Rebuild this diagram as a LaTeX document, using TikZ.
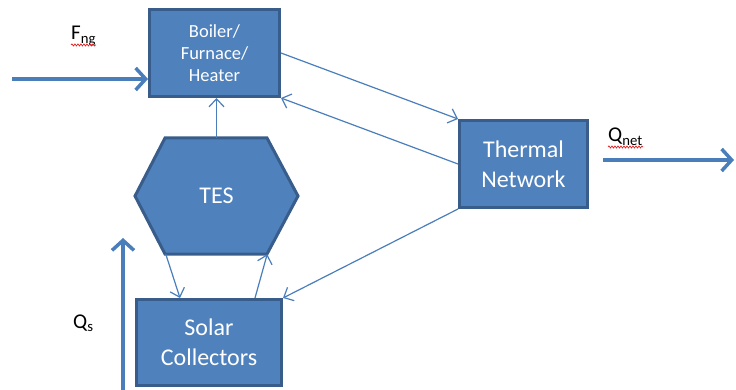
\documentclass[tikz,border=0pt]{standalone}
\usepackage{fontspec}
\setmainfont{Carlito}
\usepackage{tikz}
\usetikzlibrary{arrows.meta,calc,positioning,decorations.pathmorphing}
\definecolor{unitfill}{HTML}{4F81BD}
\definecolor{unitedge}{HTML}{385D8A}
\definecolor{linkblue}{HTML}{4A7EBB}
\definecolor{spellred}{HTML}{E02020}

\begin{document}
\begin{tikzpicture}[x=1pt,y=-1pt,
    unit/.style={draw=unitedge, fill=unitfill, line width=3pt},
    box/.style={unit, text=white, align=center, inner sep=0pt},
    big/.style={font=\fontsize{24}{30}\selectfont},
    link/.style={draw=linkblue, line width=1.2pt, -{Straight Barb[length=8pt,width=15pt]}},
    feed/.style={draw=linkblue, line width=3.5pt, -{Straight Barb[length=10pt,width=22pt]}},
    tag/.style={inner sep=0pt, font=\fontsize{21}{24}\selectfont},
    spell/.style={draw=spellred, line width=0.7pt, decorate, decoration={snake, amplitude=1pt, segment length=3pt}}]
  \useasboundingbox (0,0) rectangle (736,390);
  % units
  \node[box, minimum width=130pt, minimum height=87pt, font=\fontsize{18.5}{21.7}\selectfont] (boiler) at (214.5,53) {Boiler/\\Furnace/\\Heater};
  \node[box, big, minimum width=128pt, minimum height=87pt] (network) at (523.5,164) {Thermal\\Network};
  \node[box, big, minimum width=145pt, minimum height=86pt] (solar) at (209,342.5) {Solar\\Collectors};
  \draw[unit] (135,196) -- (165,138) -- (267,138) -- (298,196) -- (267,254) -- (165,254) -- cycle;
  \node[big, text=white, minimum width=163pt, minimum height=116pt] (tes) at (216.5,196) {TES};
  % internal flows
  \draw[link] (boiler.east) -- (network.north west);
  \draw[link] (network.west) -- (boiler.south east);
  \draw[link] (network.south west) -- (solar.north east);
  \draw[link] (tes.north) -- (tes.north |- boiler.south);
  \draw[link] ($(tes.south west)+(31,0)$) -- ($(solar.north west)+(45,0)$);
  \draw[link] ($(solar.north east)+(-28,0)$) -- ($(tes.south east)+(-31,0)$);
  % outside flows
  \coordinate (ngin) at (12,79);
  \coordinate (solin) at (123,390);
  \coordinate (soltip) at (123,238);
  \coordinate (netstart) at (603,160);
  \coordinate (netout) at (734,160);
  \draw[feed] (ngin) -- (ngin -| boiler.west);
  \draw[feed] (solin) -- (soltip);
  \draw[feed] (netstart) -- (netout);
  \node[tag, anchor=base west] (fng) at (71,40) {F\textsubscript{ng}};
  \node[tag, anchor=base west] (qnet) at (608,142) {Q\textsubscript{net}};
  \node[tag, anchor=base west] (qs) at (73,328) {Q\textsubscript{s}};
  \draw[spell] ($(fng.base west)+(0,5)$) -- ($(fng.base east)+(0,5)$);
  \draw[spell] ($(qnet.base west)+(0,5)$) -- ($(qnet.base east)+(0,5)$);
\end{tikzpicture}
\end{document}
